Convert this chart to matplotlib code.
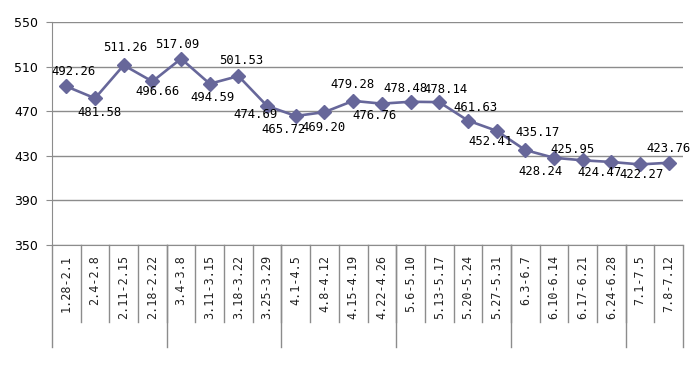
import numpy as np
import matplotlib
matplotlib.use('Agg')
import matplotlib.pyplot as plt
import matplotlib.transforms as mtransforms

# data
weeks = ['1.28-2.1', '2.4-2.8', '2.11-2.15', '2.18-2.22', '3.4-3.8', '3.11-3.15',
         '3.18-3.22', '3.25-3.29', '4.1-4.5', '4.8-4.12', '4.15-4.19', '4.22-4.26',
         '5.6-5.10', '5.13-5.17', '5.20-5.24', '5.27-5.31', '6.3-6.7', '6.10-6.14',
         '6.17-6.21', '6.24-6.28', '7.1-7.5', '7.8-7.12']
prices = [492.26, 481.58, 511.26, 496.66, 517.09, 494.59, 501.53, 474.69, 465.72,
          469.20, 479.28, 476.76, 478.48, 478.14, 461.63, 452.41, 435.17, 428.24,
          425.95, 424.47, 422.27, 423.76]
month_sizes = [4, 4, 4, 4, 4, 2]
yticks = [350, 390, 430, 470, 510, 550]

# data label nudges from the marker, in pixels (x right, y up)
label_dx = [7, 5, 2, 5, -4, 3, 3, -12, -12, -1, -1, -7, -5, 6, 8, -6, 12, -13, -10, -12, 2, 0]
label_dy = [15, -14, 18, -10, 14, -14, 16, -9, -14, -15, 16, -12, 13, 13, 13, -11, 18, -14,
            11, -11, -10, 14]

line_color = '#67679a'
grid_color = '#8c8c8c'
mono = ['DejaVu Sans Mono']

fig = plt.figure(figsize=(7.0, 3.67), dpi=100)
ax = fig.add_axes([52 / 700, 122 / 367, 631 / 700, 223 / 367])

x = np.arange(len(weeks))
ax.plot(x, prices, color=line_color, lw=1.9, marker='D', ms=7,
        mfc=line_color, mec=line_color, zorder=3, clip_on=False)

for xi, v, dx, dy in zip(x, prices, label_dx, label_dy):
    ax.annotate('%.2f' % v, (xi, v), xytext=(dx * 0.72, dy * 0.72), textcoords='offset points',
                ha='center', va='center', fontsize=8.8, family=mono, color='black')

ax.set_xlim(-0.5, len(weeks) - 0.5)
ax.set_ylim(350, 550)
ax.set_yticks(yticks)
ax.tick_params(axis='y', labelsize=9, length=4, color=grid_color, pad=6)
ax.yaxis.grid(True, color=grid_color, lw=1)
ax.set_axisbelow(True)
for s in ['top', 'right']:
    ax.spines[s].set_visible(False)
ax.spines['left'].set_color(grid_color)
ax.spines['bottom'].set_color(grid_color)

# category labels and divider lines below the axis
ax.set_xticks([])
trans = mtransforms.blended_transform_factory(ax.transData, ax.transAxes)
for xi, w in zip(x, weeks):
    ax.text(xi, -0.045, w, rotation=90, ha='center', va='top', fontsize=8.5,
            family=mono, color='#222222', transform=trans)
for b in np.arange(0.5, len(weeks) - 1, 1.0):
    ax.plot([b, b], [0, -0.345], color=grid_color, lw=1, transform=trans, clip_on=False)
edges = np.concatenate([[0], np.cumsum(month_sizes)]) - 0.5
for b in edges:
    ax.plot([b, b], [0, -0.457], color=grid_color, lw=1, transform=trans, clip_on=False)

fig.savefig('out.png', dpi=100)
